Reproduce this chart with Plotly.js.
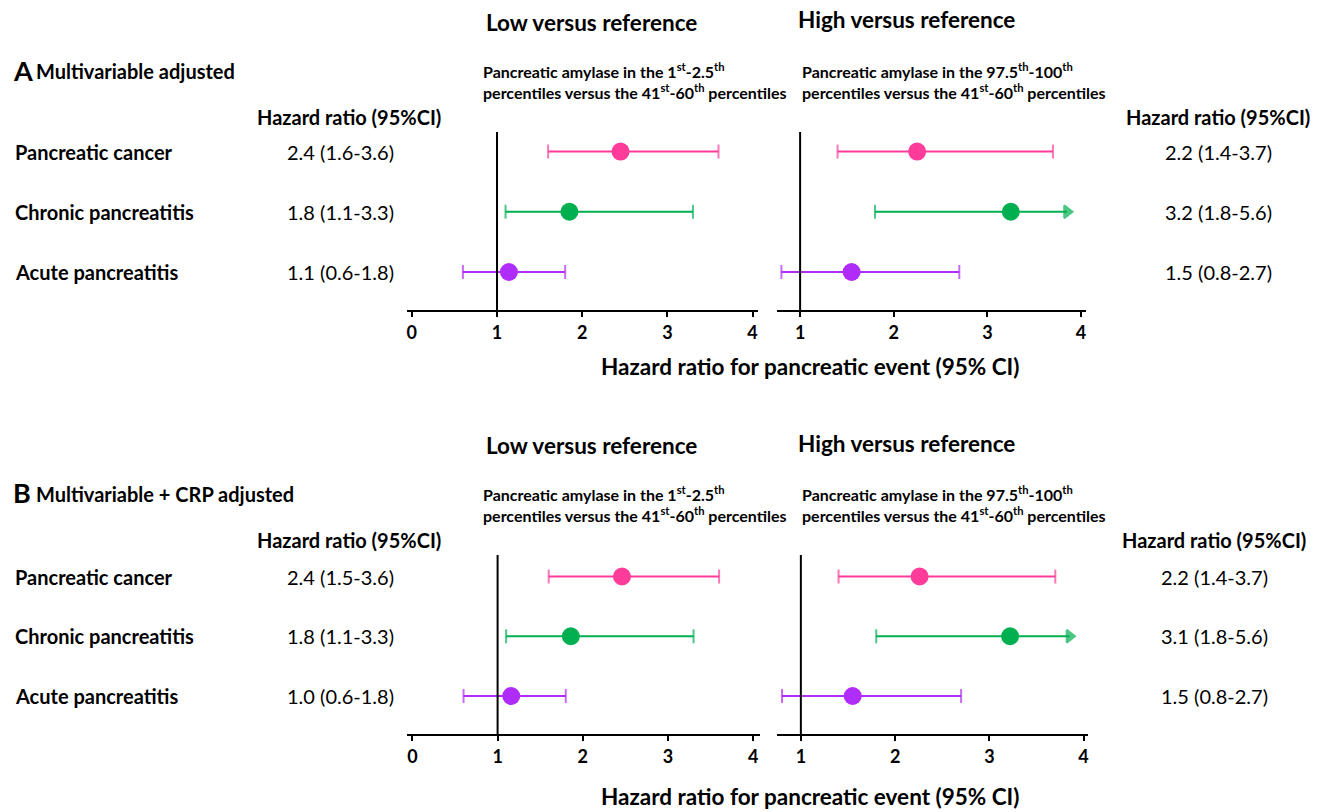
<!DOCTYPE html>
<html>
<head>
<meta charset="utf-8">
<script src="https://cdn.plot.ly/plotly-3.0.1.min.js"></script>
<style>html,body{margin:0;padding:0;background:#fff;}#chart{width:1324px;height:812px;}</style>
</head>
<body>
<div id="chart"></div>
<script>
// ---------- DATA ----------
const outcomes = ['Pancreatic cancer', 'Chronic pancreatitis', 'Acute pancreatitis'];
const rowIndex = [3, 2, 1];

// Panel A: multivariable adjusted
const A_low_hr  = [2.45, 1.85, 1.14];
const A_low_lo  = [1.6, 1.1, 0.6];
const A_low_hi  = [3.6, 3.3, 1.8];
const A_low_txt = ['2.4 (1.6-3.6)', '1.8 (1.1-3.3)', '1.1 (0.6-1.8)'];

const A_high_hr  = [2.25, 3.25, 1.55];
const A_high_lo  = [1.4, 1.8, 0.8];
const A_high_hi  = [3.7, 5.6, 2.7];
const A_high_txt = ['2.2 (1.4-3.7)', '3.2 (1.8-5.6)', '1.5 (0.8-2.7)'];

// Panel B: multivariable + CRP adjusted
const B_low_hr  = [2.46, 1.86, 1.16];
const B_low_lo  = [1.6, 1.1, 0.6];
const B_low_hi  = [3.6, 3.3, 1.8];
const B_low_txt = ['2.4 (1.5-3.6)', '1.8 (1.1-3.3)', '1.0 (0.6-1.8)'];

const B_high_hr  = [2.26, 3.22, 1.55];
const B_high_lo  = [1.4, 1.8, 0.8];
const B_high_hi  = [3.7, 5.6, 2.7];
const B_high_txt = ['2.2 (1.4-3.7)', '3.1 (1.8-5.6)', '1.5 (0.8-2.7)'];

const lowTicks  = [0, 1, 2, 3, 4];
const highTicks = [1, 2, 3, 4];
const axisMax = 3.85;   // upper CI beyond axis is drawn as an arrow ending here

// ---------- STYLE ----------
const colors = ['#FF3C9A', '#00AF50', '#B02CF8'];
const FONT = 'Lato, "Open Sans", sans-serif';
const W = 1324, H = 812;
const px = v => v / W;
const py = v => 1 - v / H;

const traces = [];
function addPanel(hr, lo, hi, xa, ya) {
  for (let i = 0; i < hr.length; i++) {
    const clipped = hi[i] > axisMax;
    traces.push({
      type: 'scatter', mode: 'lines+markers', xaxis: xa, yaxis: ya,
      x: [lo[i], clipped ? axisMax : hi[i]], y: [rowIndex[i], rowIndex[i]],
      line: {color: colors[i], width: 2},
      marker: {symbol: ['line-ns-open', clipped ? 'triangle-right' : 'line-ns-open'],
               size: [10, clipped ? 11 : 10], color: colors[i],
               line: {color: colors[i], width: 2}},
      hoverinfo: 'skip', showlegend: false, cliponaxis: false
    });
    traces.push({
      type: 'scatter', mode: 'markers', xaxis: xa, yaxis: ya,
      x: [hr[i]], y: [rowIndex[i]],
      marker: {symbol: 'circle', size: 18, color: colors[i]},
      name: outcomes[i], showlegend: false, cliponaxis: false
    });
  }
}
addPanel(A_low_hr, A_low_lo, A_low_hi, 'x', 'y');
addPanel(A_high_hr, A_high_lo, A_high_hi, 'x2', 'y');
addPanel(B_low_hr, B_low_lo, B_low_hi, 'x3', 'y2');
addPanel(B_high_hr, B_high_lo, B_high_hi, 'x4', 'y2');

function xax(domain, range, ticks, anchor) {
  return {
    domain: domain, range: range, anchor: anchor,
    tickmode: 'array', tickvals: ticks, ticktext: ticks.map(String),
    showline: true, linecolor: '#000', linewidth: 2,
    ticks: 'outside', ticklen: 5, tickwidth: 2, tickcolor: '#000',
    showgrid: false, zeroline: false, fixedrange: true,
    tickfont: {family: FONT, size: 18, color: '#000', weight: 700}
  };
}
function yax(domain, range) {
  return {domain: domain, range: range, visible: false, showgrid: false, zeroline: false, fixedrange: true};
}

const annotations = [];
function txt(text, x, y, size, bold, xanchor, extra) {
  annotations.push(Object.assign({
    text: bold ? '<b>' + text + '</b>' : text,
    xref: 'paper', yref: 'paper', x: px(x), y: py(y),
    xanchor: xanchor || 'center', yanchor: 'middle', showarrow: false,
    font: {family: FONT, size: size, color: '#000'}
  }, extra || {}));
}
function panelText(letter, title, dy, yref, lowTxt, highTxt, rightValX) {
  txt('Low versus reference', 591, 22 + dy, 22.5, true);
  txt('High versus reference', 906, 20 + dy, 22.5, true);
  txt(letter, 11, 70 + dy, 27, true, 'left');
  txt(title, 34, 71 + dy, 20, true, 'left');
  txt('Pancreatic amylase in the 1<sup>st</sup>-2.5<sup>th</sup><br>percentiles versus the 41<sup>st</sup>-60<sup>th</sup> percentiles',
      481, 81 + dy, 16, true, 'left', {align: 'left'});
  txt('Pancreatic amylase in the 97.5<sup>th</sup>-100<sup>th</sup><br>percentiles versus the 41<sup>st</sup>-60<sup>th</sup> percentiles',
      800, 81 + dy, 16, true, 'left', {align: 'left'});
  txt('Hazard ratio (95%CI)', 349, 117 + dy, 20, true);
  txt('Hazard ratio (95%CI)', rightValX, 117 + dy, 20, true);
  txt('Hazard ratio for pancreatic event (95% CI)', 810, 366 + dy * 1.017, 22.5, true);
  for (let i = 0; i < outcomes.length; i++) {
    annotations.push({text: '<b>' + outcomes[i] + '</b>', xref: 'paper', yref: yref,
      x: px(13), y: rowIndex[i], xanchor: 'left', yanchor: 'middle', showarrow: false,
      font: {family: FONT, size: 20, color: '#000'}});
    annotations.push({text: lowTxt[i], xref: 'paper', yref: yref,
      x: px(340), y: rowIndex[i], xanchor: 'center', yanchor: 'middle', showarrow: false,
      font: {family: FONT, size: 20, color: '#000'}});
    annotations.push({text: highTxt[i], xref: 'paper', yref: yref,
      x: px(rightValX), y: rowIndex[i], xanchor: 'center', yanchor: 'middle', showarrow: false,
      font: {family: FONT, size: 20, color: '#000'}});
  }
}
panelText('A', 'Multivariable adjusted', 0, 'y', A_low_txt, A_high_txt, 1218);
panelText('B', 'Multivariable + CRP adjusted', 423, 'y2', B_low_txt, B_high_txt, 1214);

function vline(xref, yref) {
  return {type: 'line', xref: xref, yref: yref + ' domain', x0: 1, x1: 1, y0: 0, y1: 1,
          line: {color: '#000', width: 2}};
}

const layout = {
  width: W, height: H,
  margin: {l: 0, r: 0, t: 0, b: 0},
  paper_bgcolor: '#fff', plot_bgcolor: 'rgba(0,0,0,0)',
  showlegend: false,
  font: {family: FONT, color: '#000'},
  xaxis:  xax([px(406.7), px(757.7)], [-0.06, 4.06], lowTicks, 'y'),
  xaxis2: xax([px(776.7), px(1085.7)], [0.75, 4.05], highTicks, 'y'),
  xaxis3: xax([px(407.3), px(760)], [-0.06, 4.08], lowTicks, 'y2'),
  xaxis4: xax([px(777.3), px(1088.3)], [0.75, 4.05], highTicks, 'y2'),
  yaxis:  yax([py(310), py(132)], [0.369, 3.324]),
  yaxis2: yax([py(734), py(555)], [0.364, 3.36]),
  shapes: [vline('x', 'y'), vline('x2', 'y'), vline('x3', 'y2'), vline('x4', 'y2')],
  annotations: annotations
};

Plotly.newPlot('chart', traces, layout, {displayModeBar: false, staticPlot: true});
</script>
</body>
</html>
